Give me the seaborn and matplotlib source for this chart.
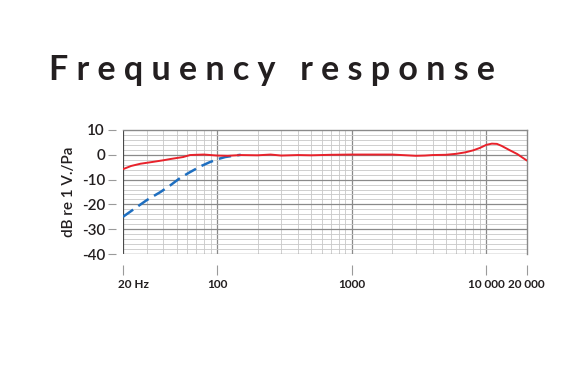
# Frequency response chart
import numpy as np
import pandas as pd
import matplotlib
matplotlib.use("Agg")
from matplotlib import pyplot as plt
from matplotlib import transforms
import seaborn as sns

# values
red_freq = [20, 23, 27, 33, 40, 45, 56, 63, 70, 80, 100, 120, 150, 200, 250, 300, 400, 500, 700,
            1000, 1500, 2000, 3000, 3500, 4000, 5000, 6000, 7000, 8000, 9000, 10000, 11000, 12000,
            13000, 15000, 17000, 20000]
red_db = [-5.8, -4.5, -3.6, -2.9, -2.2, -1.7, -0.9, -0.1, 0.0, 0.1, -0.3, -0.4, -0.1, -0.2, 0.1, -0.3,
          -0.1, -0.2, 0.0, 0.1, 0.1, 0.1, -0.4, -0.3, -0.1, 0.0, 0.4, 1.0, 1.8, 2.8, 4.0, 4.5, 4.4,
          3.6, 1.8, 0.3, -2.3]
blue_freq = [20, 25, 30, 38, 45, 53, 62, 75, 88, 102, 115, 132, 150]
blue_db = [-25.0, -21.3, -18.3, -15.0, -12.3, -9.4, -7.2, -4.7, -3.0, -1.7, -0.9, -0.4, 0.0]

x_ticks = [20, 100, 1000, 10000, 20000]
x_labels = ["20 Hz", "100", "1000", "10 000", "20 000"]
y_ticks = [10, 0, -10, -20, -30, -40]

red = pd.DataFrame({"freq": red_freq, "db": red_db})
blue = pd.DataFrame({"freq": blue_freq, "db": blue_db})

sns.set_style("white")
plt.rcParams['font.family'] = ['Lato', 'DejaVu Sans']
plt.rcParams['axes.unicode_minus'] = False

fig = plt.figure(figsize=(5.64, 3.81), dpi=100)
ax = fig.add_axes([0.218, 0.3333, 0.716, 0.3255])

ax.set_xscale("log")
ax.set_xlim(20, 20000)
ax.set_ylim(-40, 10)

# grid
minor_x = [f * d for d in [10, 100, 1000] for f in range(2, 10)]
minor_x = [v for v in minor_x if 20 < v < 20000]
for v in minor_x:
    ax.axvline(v, color="#c8c8c8", lw=0.6, zorder=1)
for v in [100, 1000, 10000]:
    ax.axvline(v, color="#8a8a8a", lw=0.9, zorder=1)
for v in range(-38, 10, 2):
    if v % 10 == 0:
        ax.axhline(v, color="#8a8a8a", lw=0.9, zorder=1)
    else:
        ax.axhline(v, color="#c8c8c8", lw=0.6, zorder=1)
ax.axvline(20, color="#4a4a4a", lw=1.6, zorder=2)
ax.axhline(-40, color="#8a8a8a", lw=1.0, zorder=2)

sns.lineplot(data=blue, x="freq", y="db", ax=ax, color="#1f6fc0", lw=1.8,
             linestyle=(0, (5, 2.5)), zorder=3)
sns.lineplot(data=red, x="freq", y="db", ax=ax, color="#e8222b", lw=1.4, zorder=4)

for s in ["top", "right"]:
    ax.spines[s].set_color("#8a8a8a")
    ax.spines[s].set_linewidth(1.0)
ax.spines["left"].set_position(("outward", 5))
ax.spines["bottom"].set_position(("outward", 8))
ax.spines["left"].set_color("none")
ax.spines["bottom"].set_color("none")

ax.set_xticks(x_ticks)
ax.set_xticklabels(x_labels)
ax.xaxis.set_minor_locator(matplotlib.ticker.NullLocator())
ax.set_yticks(y_ticks)
ax.tick_params(axis="x", bottom=True, length=7, width=0.8, color="#9a9a9a", pad=3,
               labelsize=8.5, labelcolor="#231f20")
ax.tick_params(axis="y", left=True, length=6, width=0.8, color="#9a9a9a", pad=2,
               labelsize=11, labelcolor="#231f20")
for lab in ax.get_xticklabels():
    lab.set_fontweight("bold")
for lab in ax.get_yticklabels():
    lab.set_fontweight("semibold")
first = ax.get_xticklabels()[0]
first.set_horizontalalignment("left")
first.set_transform(first.get_transform() + transforms.ScaledTranslation(-0.05, 0, fig.dpi_scale_trans))

ax.set_xlabel("")
ax.set_ylabel("dB re 1 V./Pa", fontsize=11, color="#231f20", fontweight="semibold", labelpad=4)

fig.text(0.482, 0.815, "F r e q u e n c y   r e s p o n s e", ha="center", va="center",
         fontsize=24.5, fontweight="bold", color="#231f20")

fig.savefig("out.png", dpi=100, facecolor="white")
